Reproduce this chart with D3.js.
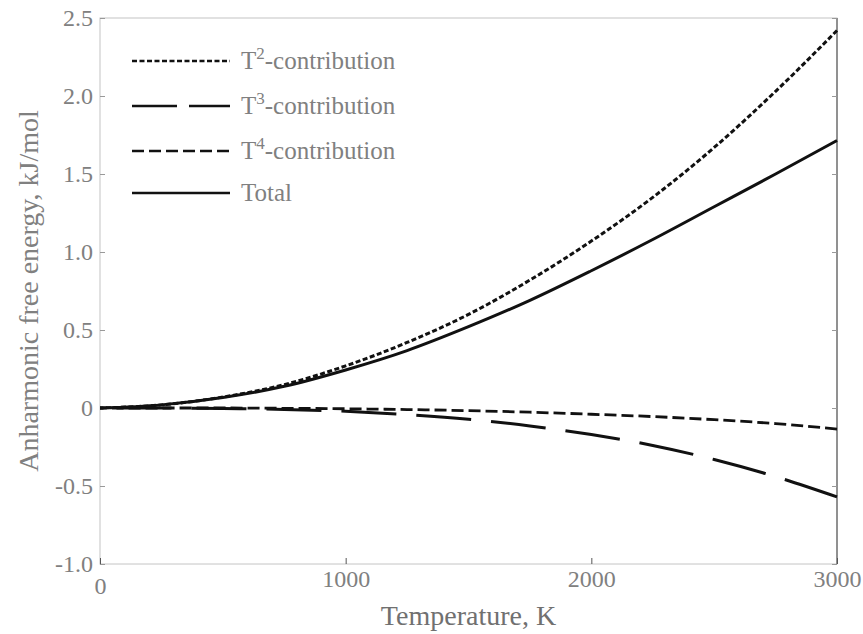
<!DOCTYPE html>
<html><head><meta charset="utf-8">
<script src="https://cdn.jsdelivr.net/npm/d3@7"></script>
<style>
body{margin:0;background:#fff;}
text{font-family:"Liberation Serif","DejaVu Serif",serif;}
</style></head>
<body><svg id="c" width="863" height="634"></svg>
<script>
const temps = [0,250,500,750,1000,1250,1500,1750,2000,2250,2500,2750,3000];
const t2 = [0,0.02,0.07,0.15,0.27,0.42,0.60,0.82,1.07,1.35,1.67,2.03,2.42];
const t3 = [0,0,-0.003,-0.009,-0.021,-0.042,-0.072,-0.115,-0.17,-0.24,-0.33,-0.44,-0.57];
const t4 = [0,0,0,-0.002,-0.005,-0.01,-0.017,-0.027,-0.04,-0.055,-0.075,-0.1,-0.135];
const total = [0,0.02,0.067,0.139,0.244,0.368,0.521,0.69,0.88,1.08,1.29,1.50,1.715];
const xTicks = [0,1000,2000,3000];
const yTicks = [-1.0,-0.5,0,0.5,1.0,1.5,2.0,2.5];
const seriesNames = ["T2","T3","T4","Total"];

const svg = d3.select("#c");
const m = {l:100, r:837, t:18, b:564};
const x = d3.scaleLinear().domain([0,3000]).range([m.l,m.r]);
const y = d3.scaleLinear().domain([-1,2.5]).range([m.b,m.t]);
const txt = "#808080";

// frame
svg.append("rect").attr("x",m.l).attr("y",m.t).attr("width",m.r-m.l).attr("height",m.b-m.t)
  .attr("fill","none").attr("stroke","#c4c4c4").attr("stroke-width",1);
svg.append("line").attr("x1",m.r).attr("x2",m.r).attr("y1",m.t).attr("y2",m.b).attr("stroke","#666").attr("stroke-width",1.3);

// axes
const yAxis = d3.axisLeft(y).tickValues(yTicks).tickSize(-5).tickPadding(7)
  .tickFormat(d => d===0 ? "0" : d.toFixed(1));
const gy = svg.append("g").attr("transform",`translate(${m.l},0)`).call(yAxis);
gy.select(".domain").remove();
gy.selectAll("line").attr("stroke","#999");
gy.selectAll("text").attr("font-size",24).attr("fill",txt);

const gyr = svg.append("g").attr("transform",`translate(${m.r},0)`).call(d3.axisRight(y).tickValues(yTicks).tickSize(-5).tickFormat(""));
gyr.select(".domain").remove();
gyr.selectAll("line").attr("stroke","#999");

const xAxis = d3.axisBottom(x).tickValues(xTicks).tickSize(-6).tickPadding(6).tickFormat(d3.format("d"));
const gx = svg.append("g").attr("transform",`translate(0,${m.b})`).call(xAxis);
gx.select(".domain").remove();
gx.selectAll("line").attr("stroke","#555");
gx.selectAll("text").attr("font-size",24).attr("fill",txt);
gx.selectAll(".tick").filter(d=>d===0).select("text").attr("dy","1.0em");

// labels
svg.append("text").attr("x",(m.l+m.r)/2).attr("y",625).attr("text-anchor","middle")
  .attr("font-size",28).attr("fill","#707070").text("Temperature, K");
svg.append("text").attr("transform",`translate(38,${(m.t+m.b)/2}) rotate(-90)`).attr("text-anchor","middle")
  .attr("font-size",28).attr("fill",txt).text("Anharmonic free energy, kJ/mol");

// lines
const styles = {
  T2:{data:t2, dash:[5,2.5], w:3},
  T3:{data:t3, dash:[55,20], w:3},
  T4:{data:t4, dash:[12,5], w:2.8},
  Total:{data:total, dash:null, w:3}
};
const line = d3.line().x((d,i)=>x(temps[i])).y(d=>y(d)).curve(d3.curveMonotoneX);
seriesNames.forEach(n=>{
  const s = styles[n];
  const p = svg.append("path").datum(s.data).attr("d",line).attr("fill","none")
    .attr("stroke","#111").attr("stroke-width",s.w);
  if(s.dash){
    p.attr("stroke-dasharray",s.dash.join(","));
    const L = p.node().getTotalLength();
    const per = s.dash[0]+s.dash[1];
    const off = (((s.dash[0] - L) % per) + per) % per;
    p.attr("stroke-dashoffset", off);
  }
});

// legend
const legLabels = [["T","2","-contribution"],["T","3","-contribution"],["T","4","-contribution"],["Total","",""]];
const legDash = ["5,2.5","45,12","12,5",null];
const legY = [61,106,151,193];
legLabels.forEach((l,i)=>{
  svg.append("line").attr("x1",132).attr("x2",230).attr("y1",legY[i]).attr("y2",legY[i])
    .attr("stroke","#111").attr("stroke-width",2.5).attr("stroke-dasharray",legDash[i]);
  const t = svg.append("text").attr("x",241).attr("y",legY[i]+8).attr("font-size",25).attr("fill",txt);
  t.append("tspan").text(l[0]);
  if(l[1]) t.append("tspan").attr("dy",-10).attr("font-size",17).text(l[1]);
  if(l[2]) t.append("tspan").attr("dy",10).text(l[2]);
});
</script></body></html>
